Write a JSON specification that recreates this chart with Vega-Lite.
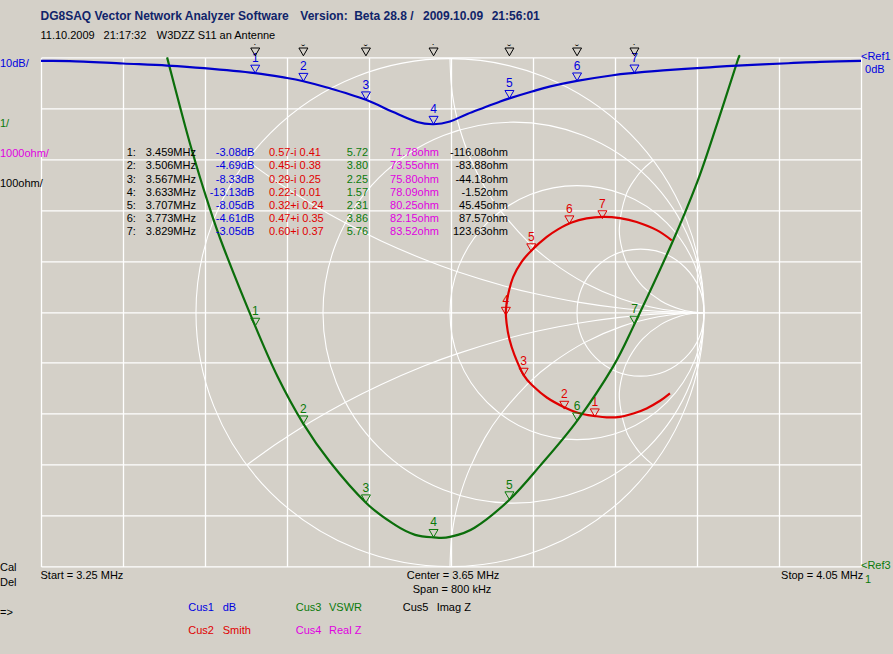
{
  "$schema": "https://vega.github.io/schema/vega-lite/v6.json",
  "description": "DG8SAQ VNWA sweep of W3DZZ antenna S11: dB, VSWR and Smith chart traces",
  "width": 820,
  "height": 509,
  "autosize": {"type": "none"},
  "padding": {"left": 41, "top": 57.4, "right": 32, "bottom": 87.6},
  "background": "#d4d0c8",
  "view": {"stroke": null},
  "config": {"text": {"font": "Liberation Sans", "fontSize": 11, "align": "left", "baseline": "middle"}},
  "datasets": {
    "markers": [
      {"n": "1", "f": 3.459, "db": -3.08, "vswr": 5.72, "re": 0.57, "im": -0.41, "top": "˙"},
      {"n": "2", "f": 3.506, "db": -4.69, "vswr": 3.80, "re": 0.45, "im": -0.38, "top": "˘"},
      {"n": "3", "f": 3.567, "db": -8.33, "vswr": 2.25, "re": 0.29, "im": -0.25, "top": "˘"},
      {"n": "4", "f": 3.633, "db": -13.13, "vswr": 1.57, "re": 0.22, "im": -0.01, "top": "˙"},
      {"n": "5", "f": 3.707, "db": -8.05, "vswr": 2.31, "re": 0.32, "im": 0.24, "top": "˘"},
      {"n": "6", "f": 3.773, "db": -4.61, "vswr": 3.86, "re": 0.47, "im": 0.35, "top": "˘"},
      {"n": "7", "f": 3.829, "db": -3.05, "vswr": 5.76, "re": 0.60, "im": 0.37, "top": "˙"}
    ],
    "table": [
      {"row": 1, "n": "1:", "freq": "3.459MHz", "db": "-3.08dB", "smith": "0.57-i 0.41", "vswr": "5.72", "real": "71.78ohm", "imag": "-116.08ohm"},
      {"row": 2, "n": "2:", "freq": "3.506MHz", "db": "-4.69dB", "smith": "0.45-i 0.38", "vswr": "3.80", "real": "73.55ohm", "imag": "-83.88ohm"},
      {"row": 3, "n": "3:", "freq": "3.567MHz", "db": "-8.33dB", "smith": "0.29-i 0.25", "vswr": "2.25", "real": "75.80ohm", "imag": "-44.18ohm"},
      {"row": 4, "n": "4:", "freq": "3.633MHz", "db": "-13.13dB", "smith": "0.22-i 0.01", "vswr": "1.57", "real": "78.09ohm", "imag": "-1.52ohm"},
      {"row": 5, "n": "5:", "freq": "3.707MHz", "db": "-8.05dB", "smith": "0.32+i 0.24", "vswr": "2.31", "real": "80.25ohm", "imag": "45.45ohm"},
      {"row": 6, "n": "6:", "freq": "3.773MHz", "db": "-4.61dB", "smith": "0.47+i 0.35", "vswr": "3.86", "real": "82.15ohm", "imag": "87.57ohm"},
      {"row": 7, "n": "7:", "freq": "3.829MHz", "db": "-3.05dB", "smith": "0.60+i 0.37", "vswr": "5.76", "real": "83.52ohm", "imag": "123.63ohm"}
    ],
    "blue": [
      {"f": 3.25, "db": -0.69}, {"f": 3.278, "db": -0.72}, {"f": 3.33, "db": -1.2}, {"f": 3.373, "db": -1.6},
      {"f": 3.409, "db": -2.1}, {"f": 3.459, "db": -3.08}, {"f": 3.49, "db": -4.05}, {"f": 3.506, "db": -4.69},
      {"f": 3.529, "db": -5.9}, {"f": 3.567, "db": -8.33}, {"f": 3.593, "db": -10.7}, {"f": 3.617, "db": -12.7},
      {"f": 3.633, "db": -13.13}, {"f": 3.649, "db": -12.6}, {"f": 3.666, "db": -11.1}, {"f": 3.695, "db": -8.9},
      {"f": 3.707, "db": -8.05}, {"f": 3.729, "db": -6.7}, {"f": 3.747, "db": -5.7}, {"f": 3.773, "db": -4.61},
      {"f": 3.808, "db": -3.5}, {"f": 3.829, "db": -3.05}, {"f": 3.857, "db": -2.55}, {"f": 3.898, "db": -2.0},
      {"f": 3.929, "db": -1.6}, {"f": 3.979, "db": -1.15}, {"f": 4.01, "db": -0.88}, {"f": 4.05, "db": -0.69}
    ],
    "green": [
      {"f": 3.373, "vswr": 11}, {"f": 3.386, "vswr": 10}, {"f": 3.397, "vswr": 9.19}, {"f": 3.412, "vswr": 8.2},
      {"f": 3.428, "vswr": 7.27}, {"f": 3.459, "vswr": 5.72}, {"f": 3.481, "vswr": 4.72}, {"f": 3.506, "vswr": 3.8},
      {"f": 3.532, "vswr": 3.05}, {"f": 3.567, "vswr": 2.25}, {"f": 3.595, "vswr": 1.82}, {"f": 3.615, "vswr": 1.62},
      {"f": 3.633, "vswr": 1.57}, {"f": 3.649, "vswr": 1.58}, {"f": 3.673, "vswr": 1.76}, {"f": 3.707, "vswr": 2.31},
      {"f": 3.737, "vswr": 2.98}, {"f": 3.773, "vswr": 3.86}, {"f": 3.808, "vswr": 4.92}, {"f": 3.829, "vswr": 5.76},
      {"f": 3.864, "vswr": 7.28}, {"f": 3.89, "vswr": 8.54}, {"f": 3.91, "vswr": 9.72}, {"f": 3.929, "vswr": 10.9},
      {"f": 3.931, "vswr": 11}
    ],
    "red": [
      {"re": 0.866, "im": -0.318}, {"re": 0.827, "im": -0.347}, {"re": 0.774, "im": -0.377}, {"re": 0.722, "im": -0.397},
      {"re": 0.669, "im": -0.41}, {"re": 0.617, "im": -0.412}, {"re": 0.571, "im": -0.407}, {"re": 0.512, "im": -0.397},
      {"re": 0.449, "im": -0.372}, {"re": 0.381, "im": -0.334}, {"re": 0.328, "im": -0.29}, {"re": 0.29, "im": -0.246},
      {"re": 0.254, "im": -0.167}, {"re": 0.234, "im": -0.105}, {"re": 0.223, "im": -0.043}, {"re": 0.22, "im": 0.01},
      {"re": 0.23, "im": 0.076}, {"re": 0.249, "im": 0.141}, {"re": 0.282, "im": 0.2}, {"re": 0.322, "im": 0.246},
      {"re": 0.381, "im": 0.298}, {"re": 0.425, "im": 0.328}, {"re": 0.479, "im": 0.355}, {"re": 0.538, "im": 0.371},
      {"re": 0.604, "im": 0.377}, {"re": 0.669, "im": 0.372}, {"re": 0.735, "im": 0.357}, {"re": 0.814, "im": 0.325},
      {"re": 0.873, "im": 0.285}
    ],
    "circles": [
      {"re": 0, "im": 0, "radius": 1},
      {"re": 0.25, "im": 0, "radius": 0.75},
      {"re": 0.5, "im": 0, "radius": 0.5},
      {"re": 0.75, "im": 0, "radius": 0.25}
    ],
    "arcs": [
      {"arc": "x1", "re": 0, "im": 1}, {"arc": "x1", "re": 0.0045, "im": 0.905}, {"arc": "x1", "re": 0.016, "im": 0.82},
      {"arc": "x1", "re": 0.039, "im": 0.722}, {"arc": "x1", "re": 0.077, "im": 0.615}, {"arc": "x1", "re": 0.138, "im": 0.492},
      {"arc": "x1", "re": 0.2, "im": 0.4}, {"arc": "x1", "re": 0.31, "im": 0.276}, {"arc": "x1", "re": 0.4, "im": 0.2},
      {"arc": "x1", "re": 0.529, "im": 0.118}, {"arc": "x1", "re": 0.676, "im": 0.054}, {"arc": "x1", "re": 0.82, "im": 0.0164},
      {"arc": "x1", "re": 0.936, "im": 0.0021}, {"arc": "x1", "re": 1, "im": 0},
      {"arc": "x-1", "re": 0, "im": -1}, {"arc": "x-1", "re": 0.0045, "im": -0.905}, {"arc": "x-1", "re": 0.016, "im": -0.82},
      {"arc": "x-1", "re": 0.039, "im": -0.722}, {"arc": "x-1", "re": 0.077, "im": -0.615}, {"arc": "x-1", "re": 0.138, "im": -0.492},
      {"arc": "x-1", "re": 0.2, "im": -0.4}, {"arc": "x-1", "re": 0.31, "im": -0.276}, {"arc": "x-1", "re": 0.4, "im": -0.2},
      {"arc": "x-1", "re": 0.529, "im": -0.118}, {"arc": "x-1", "re": 0.676, "im": -0.054}, {"arc": "x-1", "re": 0.82, "im": -0.0164},
      {"arc": "x-1", "re": 0.936, "im": -0.0021}, {"arc": "x-1", "re": 1, "im": 0},
      {"arc": "x.33", "re": -0.8, "im": 0.6}, {"arc": "x.33", "re": -0.7304, "im": 0.5493}, {"arc": "x.33", "re": -0.6653, "im": 0.5046},
      {"arc": "x.33", "re": -0.5474, "im": 0.4298}, {"arc": "x.33", "re": -0.4149, "im": 0.3546}, {"arc": "x.33", "re": -0.2706, "im": 0.2824},
      {"arc": "x.33", "re": -0.1029, "im": 0.21}, {"arc": "x.33", "re": 0.027, "im": 0.1622}, {"arc": "x.33", "re": 0.214, "im": 0.1048},
      {"arc": "x.33", "re": 0.3415, "im": 0.0732}, {"arc": "x.33", "re": 0.5034, "im": 0.0414}, {"arc": "x.33", "re": 0.6677, "im": 0.0185},
      {"arc": "x.33", "re": 0.8184, "im": 0.0055}, {"arc": "x.33", "re": 0.9355, "im": 0.0007}, {"arc": "x.33", "re": 1, "im": 0},
      {"arc": "x-.33", "re": -0.8, "im": -0.6}, {"arc": "x-.33", "re": -0.7304, "im": -0.5493}, {"arc": "x-.33", "re": -0.6653, "im": -0.5046},
      {"arc": "x-.33", "re": -0.5474, "im": -0.4298}, {"arc": "x-.33", "re": -0.4149, "im": -0.3546}, {"arc": "x-.33", "re": -0.2706, "im": -0.2824},
      {"arc": "x-.33", "re": -0.1029, "im": -0.21}, {"arc": "x-.33", "re": 0.027, "im": -0.1622}, {"arc": "x-.33", "re": 0.214, "im": -0.1048},
      {"arc": "x-.33", "re": 0.3415, "im": -0.0732}, {"arc": "x-.33", "re": 0.5034, "im": -0.0414}, {"arc": "x-.33", "re": 0.6677, "im": -0.0185},
      {"arc": "x-.33", "re": 0.8184, "im": -0.0055}, {"arc": "x-.33", "re": 0.9355, "im": -0.0007}, {"arc": "x-.33", "re": 1, "im": 0},
      {"arc": "x3", "re": 0.8, "im": 0.6}, {"arc": "x3", "re": 0.7633, "im": 0.568}, {"arc": "x3", "re": 0.7333, "im": 0.5333},
      {"arc": "x3", "re": 0.6923, "im": 0.4615}, {"arc": "x3", "re": 0.6667, "im": 0.3333}, {"arc": "x3", "re": 0.68, "im": 0.24},
      {"arc": "x3", "re": 0.7059, "im": 0.1765}, {"arc": "x3", "re": 0.7586, "im": 0.1034}, {"arc": "x3", "re": 0.8308, "im": 0.0462},
      {"arc": "x3", "re": 0.9067, "im": 0.0133}, {"arc": "x3", "re": 0.9609, "im": 0.0023}, {"arc": "x3", "re": 1, "im": 0},
      {"arc": "x-3", "re": 0.8, "im": -0.6}, {"arc": "x-3", "re": 0.7633, "im": -0.568}, {"arc": "x-3", "re": 0.7333, "im": -0.5333},
      {"arc": "x-3", "re": 0.6923, "im": -0.4615}, {"arc": "x-3", "re": 0.6667, "im": -0.3333}, {"arc": "x-3", "re": 0.68, "im": -0.24},
      {"arc": "x-3", "re": 0.7059, "im": -0.1765}, {"arc": "x-3", "re": 0.7586, "im": -0.1034}, {"arc": "x-3", "re": 0.8308, "im": -0.0462},
      {"arc": "x-3", "re": 0.9067, "im": -0.0133}, {"arc": "x-3", "re": 0.9609, "im": -0.0023}, {"arc": "x-3", "re": 1, "im": 0}
    ],
    "headline": [
      {"label": "DG8SAQ Vector Network Analyzer Software", "f": 3.2495, "db": 8.13},
      {"label": "Version:", "f": 3.503, "db": 8.13},
      {"label": "Beta 28.8 /", "f": 3.5555, "db": 8.13},
      {"label": "2009.10.09", "f": 3.6227, "db": 8.13},
      {"label": "21:56:01", "f": 3.6897, "db": 8.13}
    ],
    "notes": [
      {"label": "11.10.2009", "f": 3.2495, "db": 4.2, "group": "black"},
      {"label": "21:17:32", "f": 3.311, "db": 4.2, "group": "black"},
      {"label": "W3DZZ S11 an Antenne", "f": 3.363, "db": 4.2, "group": "black"},
      {"label": "10dB/", "f": 3.21, "db": -1.2, "group": "blue"},
      {"label": "1/", "f": 3.21, "db": -13, "group": "green"},
      {"label": "1000ohm/", "f": 3.21, "db": -18.9, "group": "magenta"},
      {"label": "100ohm/", "f": 3.21, "db": -24.8, "group": "black"},
      {"label": "Cal", "f": 3.21, "db": -100.3, "group": "black"},
      {"label": "Del", "f": 3.21, "db": -103.3, "group": "black"},
      {"label": "=>", "f": 3.21, "db": -109.2, "group": "black"},
      {"label": "Start = 3.25 MHz", "f": 3.2495, "db": -101.9, "group": "black"},
      {"label": "Center = 3.65 MHz", "f": 3.6068, "db": -101.9, "group": "black"},
      {"label": "Span = 800 kHz", "f": 3.6127, "db": -104.6, "group": "black"},
      {"label": "Stop = 4.05 MHz", "f": 3.972, "db": -101.9, "group": "black"},
      {"label": "<Ref1", "f": 4.05, "db": 0.08, "group": "blue"},
      {"label": "0dB", "f": 4.054, "db": -2.4, "group": "blue"},
      {"label": "<Ref3", "f": 4.05, "db": -99.9, "group": "green"},
      {"label": "1", "f": 4.054, "db": -102.6, "group": "green"},
      {"label": "Cus1", "f": 3.3937, "db": -108.2, "group": "blue"},
      {"label": "dB", "f": 3.4273, "db": -108.2, "group": "blue"},
      {"label": "Cus3", "f": 3.4985, "db": -108.2, "group": "green"},
      {"label": "VSWR", "f": 3.531, "db": -108.2, "group": "green"},
      {"label": "Cus5", "f": 3.6029, "db": -108.2, "group": "black"},
      {"label": "Imag Z", "f": 3.636, "db": -108.2, "group": "black"},
      {"label": "Cus2", "f": 3.3937, "db": -112.7, "group": "red"},
      {"label": "Smith", "f": 3.4273, "db": -112.7, "group": "red"},
      {"label": "Cus4", "f": 3.4985, "db": -112.7, "group": "magenta"},
      {"label": "Real Z", "f": 3.531, "db": -112.7, "group": "magenta"}
    ]
  },
  "resolve": {"scale": {"x": "independent", "y": "independent"}},
  "layer": [
    {
      "encoding": {
        "x": {"field": "re", "type": "quantitative", "axis": null, "scale": {"domain": [-1.61, 1.618], "nice": false, "zero": false}},
        "y": {"field": "im", "type": "quantitative", "axis": null, "scale": {"domain": [-0.999, 1.005], "nice": false, "zero": false}}
      },
      "layer": [
        {
          "data": {"name": "circles"},
          "mark": {"type": "point", "filled": false, "shape": "circle", "stroke": "#ffffff", "strokeWidth": 1.1, "opacity": 1},
          "encoding": {
            "size": {"field": "radius", "type": "quantitative", "legend": null, "scale": {"type": "pow", "exponent": 2, "domain": [0, 1], "range": [0, 258064]}}
          }
        },
        {
          "data": {"name": "arcs"},
          "mark": {"type": "line", "stroke": "#ffffff", "strokeWidth": 1.1, "interpolate": "cardinal", "order": false},
          "encoding": {"detail": {"field": "arc", "type": "nominal"}}
        },
        {
          "data": {"name": "red"},
          "mark": {"type": "line", "stroke": "#e00000", "strokeWidth": 2.2, "order": false, "interpolate": "cardinal"}
        },
        {
          "data": {"name": "markers"},
          "mark": {"type": "point", "shape": "triangle-down", "filled": false, "stroke": "#e00000", "strokeWidth": 1, "size": 81, "opacity": 1, "yOffset": -4}
        },
        {
          "data": {"name": "markers"},
          "mark": {"type": "text", "color": "#e00000", "fontSize": 12, "align": "center", "dy": -15},
          "encoding": {"text": {"field": "n", "type": "nominal"}}
        }
      ]
    },
    {
      "data": {"name": "green"},
      "encoding": {
        "x": {"field": "f", "type": "quantitative", "axis": null, "scale": {"domain": [3.25, 4.05], "nice": false, "zero": false}},
        "y": {"field": "vswr", "type": "quantitative", "axis": null, "scale": {"domain": [1, 11], "nice": false, "zero": false}}
      },
      "layer": [
        {"mark": {"type": "line", "stroke": "#0b6e0b", "strokeWidth": 2.2, "interpolate": "cardinal"}},
        {
          "data": {"name": "markers"},
          "mark": {"type": "point", "shape": "triangle-down", "filled": false, "stroke": "#0b7a0b", "strokeWidth": 1, "size": 81, "opacity": 1, "yOffset": -4}
        },
        {
          "data": {"name": "markers"},
          "mark": {"type": "text", "color": "#0b7a0b", "fontSize": 12, "align": "center", "dy": -15},
          "encoding": {"text": {"field": "n", "type": "nominal"}}
        }
      ]
    },
    {
      "data": {"name": "blue"},
      "encoding": {
        "x": {
          "field": "f",
          "type": "quantitative",
          "scale": {"domain": [3.25, 4.05], "nice": false, "zero": false},
          "axis": {"title": null, "labels": false, "ticks": false, "domain": false, "grid": true, "gridColor": "#ffffff", "gridWidth": 1.3, "gridOpacity": 1, "values": [3.25, 3.33, 3.41, 3.49, 3.57, 3.65, 3.73, 3.81, 3.89, 3.97, 4.05]}
        },
        "y": {
          "field": "db",
          "type": "quantitative",
          "scale": {"domain": [-100, 0], "nice": false, "zero": false},
          "axis": {"title": null, "labels": false, "ticks": false, "domain": false, "grid": true, "gridColor": "#ffffff", "gridWidth": 1.3, "gridOpacity": 1, "values": [-100, -90, -80, -70, -60, -50, -40, -30, -20, -10, 0]}
        }
      },
      "layer": [
        {"mark": {"type": "line", "stroke": "#0000cc", "strokeWidth": 2.2, "interpolate": "cardinal"}},
        {
          "data": {"name": "markers"},
          "mark": {"type": "point", "shape": "triangle-down", "filled": false, "stroke": "#0000e0", "strokeWidth": 1, "size": 81, "opacity": 1, "yOffset": -4}
        },
        {
          "data": {"name": "markers"},
          "mark": {"type": "text", "color": "#0000e0", "fontSize": 12, "align": "center", "dy": -15},
          "encoding": {"text": {"field": "n", "type": "nominal"}}
        },
        {
          "data": {"name": "markers"},
          "mark": {"type": "point", "shape": "triangle-down", "filled": false, "stroke": "#000000", "strokeWidth": 1, "size": 81, "opacity": 1, "yOffset": -5.5},
          "encoding": {"y": {"datum": 0}}
        },
        {
          "data": {"name": "markers"},
          "mark": {"type": "text", "color": "#000000", "fontSize": 11, "align": "center", "dy": -8},
          "encoding": {"y": {"datum": 0}, "text": {"field": "top", "type": "nominal"}}
        },
        {
          "data": {"name": "headline"},
          "mark": {"type": "text", "color": "#10246a", "fontWeight": "bold", "fontSize": 12},
          "encoding": {"text": {"field": "label", "type": "nominal"}}
        },
        {
          "data": {"name": "notes"},
          "mark": {"type": "text", "fontSize": 11},
          "encoding": {
            "text": {"field": "label", "type": "nominal"},
            "color": {
              "field": "group",
              "type": "nominal",
              "legend": null,
              "scale": {"domain": ["black", "blue", "green", "red", "magenta"], "range": ["#000000", "#0000e0", "#0b7a0b", "#e00000", "#e000e0"]}
            }
          }
        }
      ]
    },
    {
      "data": {"name": "table"},
      "encoding": {
        "y": {"field": "row", "type": "quantitative", "axis": null, "scale": {"domain": [32.53, -6.32], "nice": false, "zero": false}}
      },
      "layer": [
        {
          "mark": {"type": "text", "color": "#000000"},
          "encoding": {"x": {"datum": 3.3336, "scale": {"domain": [3.25, 4.05], "nice": false, "zero": false}, "axis": null, "type": "quantitative"}, "text": {"field": "n", "type": "nominal"}}
        },
        {
          "mark": {"type": "text", "color": "#000000", "align": "right"},
          "encoding": {"x": {"datum": 3.4012}, "text": {"field": "freq", "type": "nominal"}}
        },
        {
          "mark": {"type": "text", "color": "#0000e0", "align": "right"},
          "encoding": {"x": {"datum": 3.4581}, "text": {"field": "db", "type": "nominal"}}
        },
        {
          "mark": {"type": "text", "color": "#e00000"},
          "encoding": {"x": {"datum": 3.4724}, "text": {"field": "smith", "type": "nominal"}}
        },
        {
          "mark": {"type": "text", "color": "#0b7a0b"},
          "encoding": {"x": {"datum": 3.5482}, "text": {"field": "vswr", "type": "nominal"}}
        },
        {
          "mark": {"type": "text", "color": "#e000e0"},
          "encoding": {"x": {"datum": 3.5905}, "text": {"field": "real", "type": "nominal"}}
        },
        {
          "mark": {"type": "text", "color": "#000000", "align": "right"},
          "encoding": {"x": {"datum": 3.7056}, "text": {"field": "imag", "type": "nominal"}}
        }
      ]
    }
  ]
}
